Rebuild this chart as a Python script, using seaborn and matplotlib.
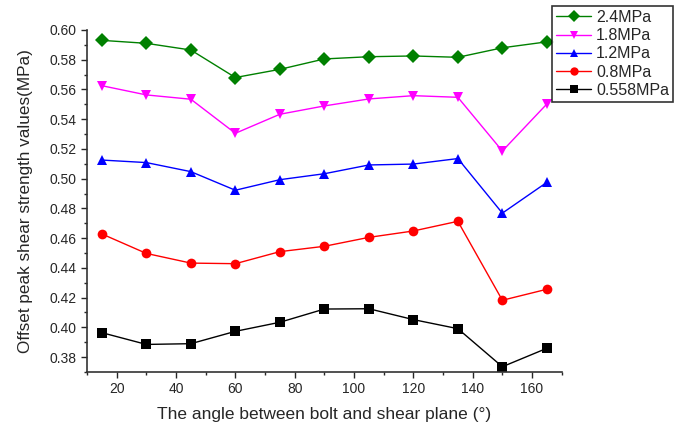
import matplotlib
matplotlib.use("Agg")
import matplotlib.pyplot as plt
import seaborn as sns
import pandas as pd
from matplotlib.ticker import MultipleLocator, FormatStrFormatter

angles = [15, 30, 45, 60, 75, 90, 105, 120, 135, 150, 165]
s_24 = [0.593, 0.591, 0.5865, 0.568, 0.5735, 0.5805, 0.582, 0.5825, 0.5816, 0.588, 0.592]
s_18 = [0.5625, 0.5563, 0.5534, 0.5305, 0.5433, 0.5489, 0.5536, 0.5558, 0.5547, 0.5186, 0.5502]
s_12 = [0.5125, 0.5108, 0.5047, 0.4922, 0.4993, 0.5033, 0.5092, 0.5098, 0.5135, 0.4768, 0.4975]
s_08 = [0.4628, 0.4497, 0.4432, 0.4428, 0.4509, 0.4545, 0.4605, 0.4648, 0.4713, 0.4182, 0.4256]
s_0558 = [0.3964, 0.3885, 0.3890, 0.3973, 0.4034, 0.4123, 0.4125, 0.4052, 0.3991, 0.3735, 0.3859]
labels = ["2.4MPa", "1.8MPa", "1.2MPa", "0.8MPa", "0.558MPa"]
series = [s_24, s_18, s_12, s_08, s_0558]
colors = ["#008000", "#ff00ff", "#0000ff", "#ff0000", "#000000"]
markers = ["D", "v", "^", "o", "s"]

rows = []
for lab, vals in zip(labels, series):
    for a, v in zip(angles, vals):
        rows.append({"angle": a, "value": v, "series": lab})
df = pd.DataFrame(rows)

sns.set_style("ticks")
plt.rcParams["font.family"] = ["Liberation Sans", "DejaVu Sans"]

fig = plt.figure(figsize=(6.8, 4.34), dpi=100)
ax = fig.add_axes([0.128, 0.143, 0.698, 0.788])
sns.lineplot(data=df, x="angle", y="value", hue="series", style="series",
             hue_order=labels, style_order=labels,
             palette=dict(zip(labels, colors)), markers=dict(zip(labels, markers)),
             dashes=False, markersize=7, linewidth=1, markeredgewidth=0,
             ax=ax)

ax.set_xlim(10, 170)
ax.set_ylim(0.37, 0.60)
ax.xaxis.set_major_locator(MultipleLocator(20))
ax.xaxis.set_minor_locator(MultipleLocator(10))
ax.yaxis.set_major_locator(MultipleLocator(0.02))
ax.yaxis.set_minor_locator(MultipleLocator(0.01))
ax.yaxis.set_major_formatter(FormatStrFormatter("%.2f"))
ax.tick_params(axis="both", which="major", length=4, width=1, labelsize=10, direction="out")
ax.tick_params(axis="both", which="minor", length=2.5, width=1, direction="out")
for s in ["top", "right"]:
    ax.spines[s].set_visible(False)
for s in ["left", "bottom"]:
    ax.spines[s].set_linewidth(1.2)
    ax.spines[s].set_color("#333333")

ax.set_xlabel("The angle between bolt and shear plane (°)", fontsize=12.5, labelpad=8)
ax.set_ylabel("Offset peak shear strength values(MPa)", fontsize=12.3, labelpad=12)

handles, labs = ax.get_legend_handles_labels()
for h in handles:
    h.set_markersize(6)
leg = ax.legend(handles, labs, loc="upper left", bbox_to_anchor=(0.98, 1.07),
                frameon=True, fancybox=False, fontsize=11.5, handlelength=2.2,
                borderpad=0.25, labelspacing=0.2, handletextpad=0.3, borderaxespad=0)
leg.get_frame().set_edgecolor("black")
leg.get_frame().set_linewidth(1.2)

fig.savefig("out.png", dpi=100)
